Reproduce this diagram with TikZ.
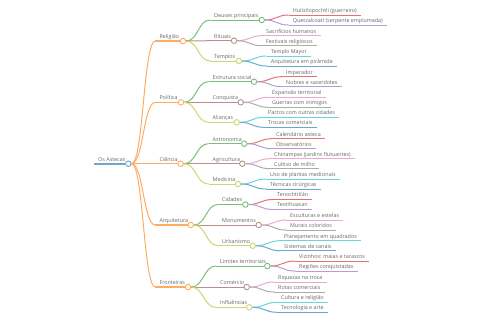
\documentclass[tikz,border=0pt]{standalone}
\usepackage{fontspec}
\setmainfont{Open Sans}
\usetikzlibrary{calc}

\definecolor{cBlue}{HTML}{1F77B4}
\definecolor{cOrange}{HTML}{FF7F0E}
\definecolor{cGreen}{HTML}{2CA02C}
\definecolor{cRed}{HTML}{D62728}
\definecolor{cPurple}{HTML}{9467BD}
\definecolor{cBrown}{HTML}{8C564B}
\definecolor{cPink}{HTML}{E377C2}
\definecolor{cGray}{HTML}{7F7F7F}
\definecolor{cOlive}{HTML}{BCBD22}
\definecolor{cCyan}{HTML}{17BECF}

\tikzset{
  lbl/.style={anchor=south west, inner xsep=4bp, inner ysep=1.2bp, text height=4.2bp, text depth=1.3bp,
    text=black!60, font=\fontsize{5.4}{6}\selectfont},
  dot/.style={circle, draw=#1!65, fill=white, line width=0.9bp, minimum size=5.5bp, inner sep=0pt},
}

% đường cong nối hai điểm (kiểu markmap)
\newcommand{\lnk}[3]{\draw[#3!65, line width=1bp] let \p1=(#1), \p2=(#2) in
  (\p1) .. controls ({(\x1+\x2)/2},\y1) and ({(\x1+\x2)/2},\y2) .. (\p2);}

\begin{document}
\begin{tikzpicture}[x=1bp, y=-1bp]
    % 1. Khung hình
    \useasboundingbox (0,0) rectangle (480,320);

    % 2. Nút gốc
    \node[lbl] (astecas-t) at (94,163.7) {Os Astecas};
    \node[dot=cBlue] (astecas) at (128.3,163.7) {};
    \draw[cBlue!65, line width=2bp] (astecas-t.south west) -- (astecas);

    % 3. Cấp 1 (màu cam)
    \foreach \nm/\cx/\y/\txt in {religiao/183/41/Religião, politica/181/102.3/Política,
        ciencia/180.7/163.7/Ciência, arquitetura/190.7/225/Arquitetura, fronteiras/188/287/Fronteiras}
    {
        \node[lbl] (\nm-t) at (155.3,\y) {\txt};
        \node[dot=cOrange] (\nm) at (\cx,\y) {};
        \draw[cOrange!65, line width=1.4bp] (\nm-t.south west) -- (\nm);
        \lnk{astecas.east}{\nm-t.south west}{cOrange}
    }

    % 4. Cấp 2
    \foreach \up/\nm/\sx/\cx/\y/\c/\txt in {
        religiao/deuses/210/261.7/20/cGreen/Deuses principais,
        religiao/rituais/210/234/40.7/cBrown/Rituais,
        religiao/templos/210/239/61/cOlive/Templos,
        politica/estrutura/208.5/254/81.7/cGreen/Estrutura social,
        politica/conquista/208.5/240.7/102.3/cBrown/Conquista,
        politica/aliancas/208.5/236.7/122.3/cOlive/Alianças,
        ciencia/astronomia/208.5/244.3/143.7/cGreen/Astronomia,
        ciencia/agricultura/208.5/242.3/163.7/cBrown/Agricultura,
        ciencia/medicina/208.5/238/184/cOlive/Medicina,
        arquitetura/cidades/218/245.3/204.5/cGreen/Cidades,
        arquitetura/monumentos/218/258.7/225/cBrown/Monumentos,
        arquitetura/urbanismo/218/252.7/245.7/cOlive/Urbanismo,
        fronteiras/limites/216/267.3/266/cGreen/Limites territoriais,
        fronteiras/comercio/216/246.7/287/cBrown/Comércio,
        fronteiras/influencias/216/249.3/307.3/cOlive/Influências}
    {
        \node[lbl] (\nm-t) at (\sx,\y) {\txt};
        \node[dot=\c] (\nm) at (\cx,\y) {};
        \draw[\c!65, line width=1bp] (\nm-t.south west) -- (\nm);
        \lnk{\up.east}{\nm-t.south west}{\c}
    }

    % 5. Cấp 3 (lá)
    \foreach \up/\sx/\ya/\yb/\ca/\cb/\ta/\tb in {
        deuses/288.7/15/25/cRed/cPurple/Huitzilopochtli (guerreiro)/Quetzalcoatl (serpente emplumada),
        rituais/262/35.7/45.7/cPink/cGray/Sacrifícios humanos/Festivais religiosos,
        templos/266.7/56/66/cCyan/cBlue/Templo Mayor/Arquitetura em pirâmide,
        estrutura/282/76.7/86.7/cRed/cPurple/Imperador/Nobres e sacerdotes,
        conquista/268/97.3/107.3/cPink/cGray/Expansão territorial/Guerras com inimigos,
        aliancas/264/117.3/127.3/cCyan/cBlue/Pactos com outras cidades/Trocas comerciais,
        astronomia/272/138.7/148.7/cRed/cPurple/Calendário asteca/Observatórios,
        agricultura/270/158.7/168.7/cPink/cGray/Chinampas (jardins flutuantes)/Cultivo de milho,
        medicina/266/179/189/cCyan/cBlue/Uso de plantas medicinais/Técnicas cirúrgicas,
        cidades/273/199.5/209.5/cRed/cPurple/Tenochtitlán/Teotihuacan,
        monumentos/286/220/230/cPink/cGray/Esculturas e estelas/Murais coloridos,
        urbanismo/280/240.7/250.7/cCyan/cBlue/Planejamento em quadrados/Sistemas de canais,
        limites/295/261/271/cRed/cPurple/Vizinhos: maias e tarascos/Regiões conquistadas,
        comercio/274/282/292/cPink/cGray/Riquezas na troca/Rotas comerciais,
        influencias/277/302.3/312.3/cCyan/cBlue/Cultura e religião/Tecnologia e arte}
    {
        \node[lbl] (\up-1) at (\sx,\ya) {\ta};
        \node[lbl] (\up-2) at (\sx,\yb) {\tb};
        \draw[\ca!65, line width=1bp] (\up-1.south west) -- (\up-1.south east);
        \draw[\cb!65, line width=1bp] (\up-2.south west) -- (\up-2.south east);
        \lnk{\up.east}{\up-1.south west}{\ca}
        \lnk{\up.east}{\up-2.south west}{\cb}
    }
\end{tikzpicture}
\end{document}
